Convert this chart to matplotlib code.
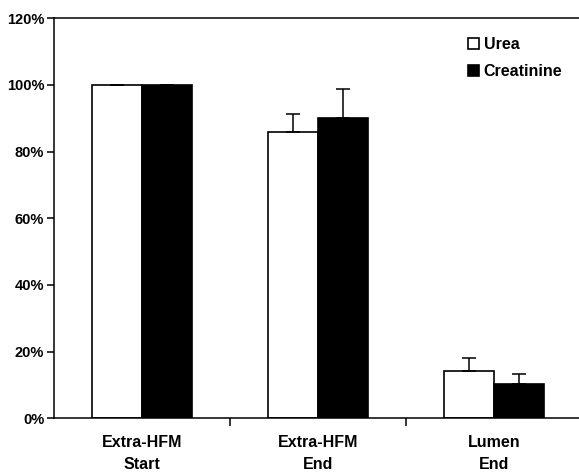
import matplotlib.pyplot as plt
import numpy as np

plt.rcParams['font.family'] = ['Liberation Sans', 'DejaVu Sans']
plt.rcParams['font.weight'] = 'bold'

categories = ["Extra-HFM\nStart", "Extra-HFM\nEnd", "Lumen\nEnd"]
urea = [100, 86, 14.2]
urea_err = [0, 5.4, 3.8]
creatinine = [100, 90.2, 10.2]
creatinine_err = [0, 8.6, 3.1]

fig = plt.figure(figsize=(5.79, 4.72), dpi=100)
ax = fig.add_axes([54 / 579, 1 - 418.3 / 472, 528 / 579, 400 / 472])

x = np.arange(len(categories)) + 0.5
w = 0.283
err_kw = dict(capsize=5, capthick=1.1, elinewidth=1.1, ecolor='black')
ax.bar(x - w / 2, urea, w, color='white', edgecolor='black', linewidth=1.2,
       yerr=[np.zeros(3), urea_err], error_kw=err_kw, label='Urea')
ax.bar(x + w / 2, creatinine, w, color='black', edgecolor='black', linewidth=1.2,
       yerr=[np.zeros(3), creatinine_err], error_kw=err_kw, label='Creatinine')

ax.set_xlim(0, 3)
ax.set_ylim(0, 120)
ax.set_yticks(np.arange(0, 121, 20))
ax.set_yticklabels([f"{v}%" for v in range(0, 121, 20)], fontsize=10.5, fontweight='bold')
ax.set_xticks(x)
ax.set_xticklabels(categories, fontsize=11.5, fontweight='bold', linespacing=1.6)
ax.set_xticks([1, 2], minor=True)
ax.tick_params(axis='x', which='major', length=0, pad=12)
ax.tick_params(axis='x', which='minor', length=6, width=1.1, direction='out')
ax.tick_params(axis='y', length=5, width=1.1, direction='out', pad=2)

for s in ax.spines.values():
    s.set_linewidth(1.1)

ax.legend(loc='upper left', bbox_to_anchor=(0.808, 0.922), bbox_transform=fig.transFigure,
          frameon=False, fontsize=11.5, handlelength=0.7, handleheight=0.7,
          handletextpad=0.3, labelspacing=0.75, borderpad=0, borderaxespad=0)

fig.savefig('out.png', dpi=100)
